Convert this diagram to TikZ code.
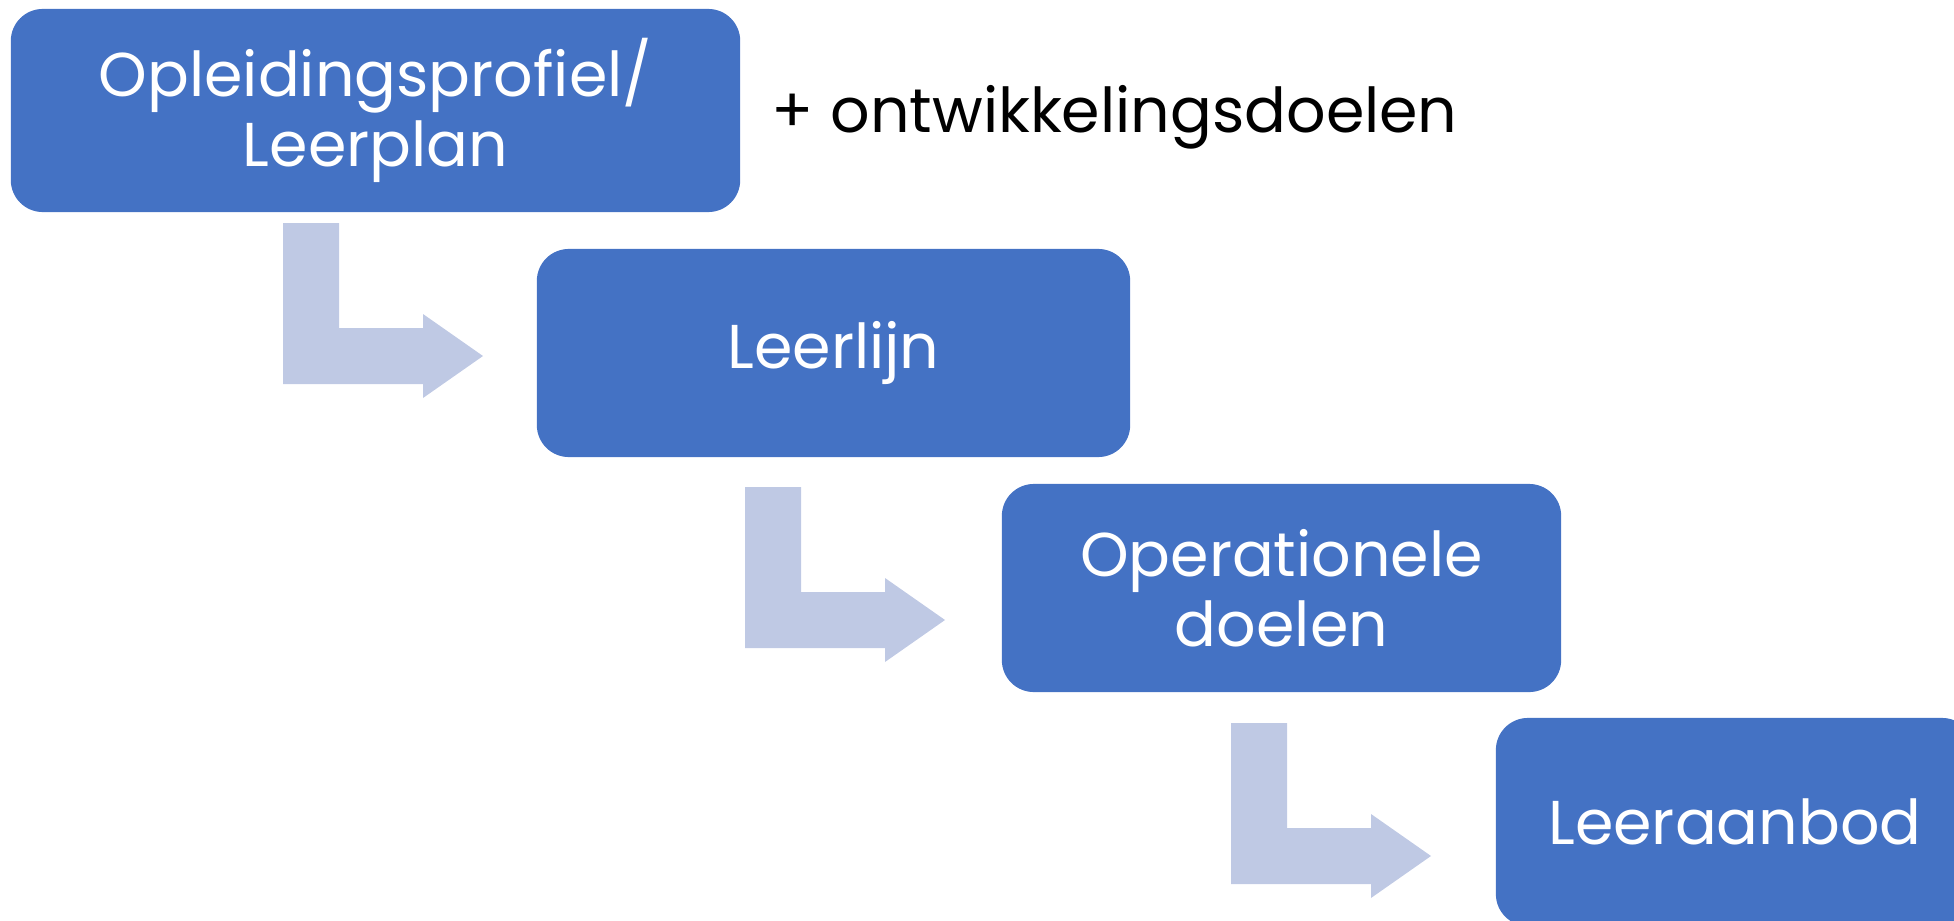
\documentclass[tikz,border=0pt]{standalone}
\usepackage{fontspec}
\setmainfont{Poppins}
\usetikzlibrary{positioning}

\definecolor{boxblue}{HTML}{4472C4}
\definecolor{arrowblue}{HTML}{BFC9E4}

\tikzset{
  stage/.style={rectangle,rounded corners=0.32cm,fill=boxblue,text=white,
    inner sep=0pt,minimum height=2.08cm,align=center,
    font=\fontsize{17.6}{19.8}\selectfont},
  bentarrow/.pic={
    \fill[arrowblue] (0,0) -- (56,0) -- (56,105) -- (140,105) -- (140,91)
      -- (200,133) -- (140,175) -- (140,161) -- (0,161) -- cycle;
  }
}

\begin{document}
\begin{tikzpicture}[x=0.01cm,y=-0.01cm]
    \useasboundingbox (0,0) rectangle (1954,921);
    \clip (0,0) rectangle (1954,921);

    \node[stage,minimum width=7.29cm,minimum height=2.03cm] (profiel) at (375.5,110.5)
      {Opleidingsprofiel/\\Leerplan};
    \node[stage,minimum width=5.93cm] (leerlijn) at (833.5,353) {Leerlijn};
    \node[stage,minimum width=5.59cm] (operationeel) at (1281.5,588)
      {Operationele\\doelen};
    \node[stage,minimum width=4.78cm] (aanbod) at (1735,822) {Leeraanbod};

    \node[anchor=base west,inner sep=0pt,font=\fontsize{17.6}{19.8}\selectfont]
      (extra) at (771,132) {+ ontwikkelingsdoelen};

    % bent arrows between the stages
    \pic at (283,223) {bentarrow};
    \pic at (745,487) {bentarrow};
    \pic at (1231,723) {bentarrow};
\end{tikzpicture}
\end{document}
